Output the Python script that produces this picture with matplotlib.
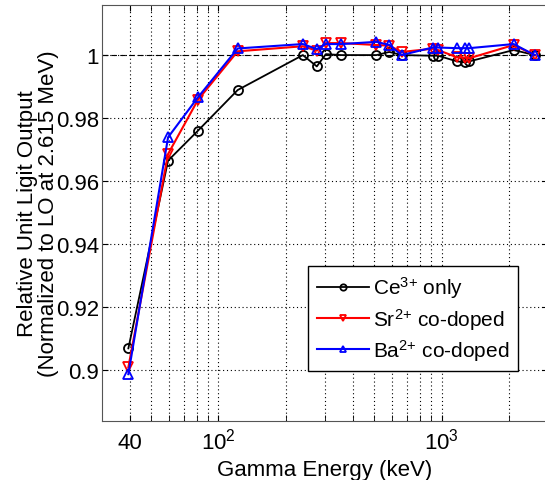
import matplotlib
matplotlib.use('Agg')
import matplotlib.pyplot as plt
from matplotlib.ticker import FixedLocator, NullFormatter

plt.rcParams['font.family'] = ['Liberation Sans', 'DejaVu Sans']
plt.rcParams['mathtext.fontset'] = 'custom'
plt.rcParams['mathtext.rm'] = 'Liberation Sans'
plt.rcParams['mathtext.it'] = 'Liberation Sans'
plt.rcParams['mathtext.default'] = 'regular'

# gamma energies (keV)
energy = [39.5, 59.5, 81, 122, 239, 276, 303, 356, 511, 583, 662,
          911, 964, 1173, 1274, 1332, 2104, 2614]

ce_only = [0.9069, 0.9665, 0.9760, 0.9889, 1.0000, 0.9964, 1.0003, 1.0000, 1.0000, 1.0010, 1.0000,
           0.9998, 0.9998, 0.9980, 0.9977, 0.9980, 1.0016, 1.0000]
sr_codoped = [0.9009, 0.9686, 0.9858, 1.0012, 1.0028, 1.0014, 1.0038, 1.0038, 1.0032, 1.0030, 1.0010,
              1.0020, 1.0016, 0.9993, 0.9992, 0.9990, 1.0032, 1.0000]
ba_codoped = [0.8987, 0.9739, 0.9866, 1.0021, 1.0035, 1.0019, 1.0035, 1.0035, 1.0042, 1.0032, 1.0000,
              1.0024, 1.0024, 1.0022, 1.0022, 1.0022, 1.0035, 1.0000]

labels = ['Ce$^{3{+}}$ only', 'Sr$^{2{+}}$ co-doped', 'Ba$^{2{+}}$ co-doped']

xticks = [40, 100, 1000]
xticklabels = ['40', '10$^2$', '10$^3$']
yticks = [0.9, 0.92, 0.94, 0.96, 0.98, 1.0]
yticklabels = ['0.9', '0.92', '0.94', '0.96', '0.98', '1']

fig = plt.figure(figsize=(5.45, 4.81), dpi=100)
ax = fig.add_axes([0.1866, 0.1237, 0.819, 0.8645])

ax.plot(energy, ce_only, '-o', color='k', lw=1.3, ms=6.5, mfc='none', mew=1.3, label=labels[0])
ax.plot(energy, sr_codoped, '-v', color='r', lw=1.5, ms=6.5, mfc='none', mew=1.3, label=labels[1])
ax.plot(energy, ba_codoped, '-^', color='b', lw=1.5, ms=6.5, mfc='none', mew=1.3, label=labels[2])
ax.axhline(1.0, ls=(0, (5, 3)), color='k', lw=0.8, zorder=1)

ax.set_xscale('log')
ax.set_xlim(30, 3000)
ax.set_ylim(0.884, 1.016)

ax.xaxis.set_major_locator(FixedLocator(xticks))
ax.xaxis.set_minor_locator(FixedLocator([50, 60, 70, 80, 90, 200, 300, 400, 500, 600, 700,
                                         800, 900, 2000, 3000]))
ax.xaxis.set_minor_formatter(NullFormatter())
ax.set_xticklabels(xticklabels, va='baseline')
ax.set_yticks(yticks)
ax.set_yticklabels(yticklabels)

ax.grid(True, which='major', ls=(0, (1, 2.5)), color='k', lw=0.8)
ax.grid(True, which='minor', axis='x', ls=(0, (1, 2.5)), color='k', lw=0.8)

ax.tick_params(which='both', direction='in', top=True, right=True, labelsize=16, length=4)
ax.tick_params(axis='x', pad=20)
ax.tick_params(axis='y', pad=2)
for s in ax.spines.values():
    s.set_color('#555555')

ax.set_xlabel('Gamma Energy (keV)', fontsize=16, labelpad=4)
ax.set_ylabel('Relative Unit Ligit Output\n(Normalized to LO at 2.615 MeV)', fontsize=16,
              linespacing=0.95, labelpad=-2)

leg = ax.legend(loc='lower right', bbox_to_anchor=(0.932, 0.119), borderaxespad=0,
                fontsize=15, fancybox=False, edgecolor='k', framealpha=1,
                handlelength=2.5, handletextpad=0.2, borderpad=0.4,
                labelspacing=0.25, markerscale=0.7)
leg.get_frame().set_linewidth(1.0)

fig.savefig('out.png', dpi=100)
